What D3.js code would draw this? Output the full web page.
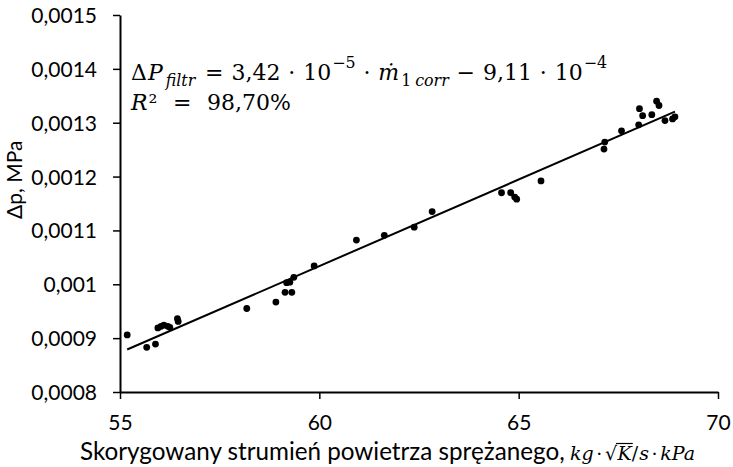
<!DOCTYPE html>
<html>
<head>
<meta charset="utf-8">
<script src="https://cdn.jsdelivr.net/npm/d3@7/dist/d3.min.js"></script>
<style>
  html, body { margin: 0; padding: 0; background: #fff; }
  svg { display: block; }
</style>
</head>
<body>
<svg id="chart" width="733" height="467"></svg>
<script>
// Corrected compressed-air flow (kg·√K/s·kPa) and filter pressure drop (MPa)
const flowValues = [
  55.18, 55.67, 55.89, 55.95, 56.03, 56.10, 56.20, 56.25, 56.44, 56.46,
  58.18, 58.91, 59.14, 59.31, 59.18, 59.26, 59.36, 59.87, 60.93, 61.63,
  62.38, 62.83, 64.57, 64.80, 64.90, 64.95, 65.56, 67.14, 67.16, 67.58,
  68.01, 68.03, 68.11, 68.34, 68.46, 68.52, 68.67, 68.86, 68.92
];
const dropValues = [
  0.000906, 0.000883, 0.000889, 0.000919, 0.000922, 0.000924, 0.000922, 0.000920, 0.000936, 0.000931,
  0.000955, 0.000967, 0.000985, 0.000985, 0.001003, 0.001004, 0.001013, 0.001034, 0.001082, 0.001091,
  0.001106, 0.001135, 0.001170, 0.001170, 0.001162, 0.001158, 0.001192, 0.001251, 0.001264, 0.001285,
  0.001296, 0.001326, 0.001313, 0.001315, 0.001340, 0.001332, 0.001304, 0.001307, 0.001311
];
const xTicks = [55, 60, 65, 70];
const xTickLabels = ["55", "60", "65", "70"];
const yTicks = [0.0008, 0.0009, 0.001, 0.0011, 0.0012, 0.0013, 0.0014, 0.0015];
const yTickLabels = ["0,0008", "0,0009", "0,001", "0,0011", "0,0012", "0,0013", "0,0014", "0,0015"];

const svg = d3.select("#chart");
const W = 733, H = 467;
const margin = { left: 120, right: 15, top: 15, bottom: 75 };

const x = d3.scaleLinear().domain([55, 70]).range([margin.left, W - margin.right]);
const y = d3.scaleLinear().domain([0.0008, 0.0015]).range([H - margin.bottom, margin.top]);

const labelFont = "Lato, 'Open Sans', sans-serif";
const mathFont = "'DejaVu Serif', 'Liberation Serif', serif";

// axes
const xAxis = d3.axisBottom(x).tickValues(xTicks).tickSize(7).tickSizeOuter(0)
  .tickFormat((d, i) => xTickLabels[i]);
const yAxis = d3.axisLeft(y).tickValues(yTicks).tickSize(7).tickSizeOuter(0)
  .tickFormat((d, i) => yTickLabels[i]);

const gx = svg.append("g").attr("transform", `translate(0,${y(0.0008)})`).call(xAxis);
const gy = svg.append("g").attr("transform", `translate(${x(55)},0)`).call(yAxis);

[gx, gy].forEach(g => {
  g.select(".domain").attr("stroke", "#000").attr("stroke-width", 2);
  g.selectAll(".tick line").attr("stroke", "#000").attr("stroke-width", 1.5);
  g.selectAll(".tick text").attr("fill", "#000")
    .style("font-family", labelFont).style("font-size", "21px");
});
gx.selectAll(".tick text").attr("y", 38).attr("dy", 0);
gy.selectAll(".tick text").attr("x", -23).attr("dy", "0.36em");

// least-squares trend line through the measurements
const n = flowValues.length;
const mx = d3.mean(flowValues), my = d3.mean(dropValues);
let sxy = 0, sxx = 0;
for (let i = 0; i < n; i++) {
  sxy += (flowValues[i] - mx) * (dropValues[i] - my);
  sxx += (flowValues[i] - mx) ** 2;
}
const slope = sxy / sxx, intercept = my - slope * mx;
const [xMin, xMax] = d3.extent(flowValues);
svg.append("line")
  .attr("x1", x(xMin)).attr("y1", y(slope * xMin + intercept))
  .attr("x2", x(xMax)).attr("y2", y(slope * xMax + intercept))
  .attr("stroke", "#000").attr("stroke-width", 2);

// measurement points
svg.append("g").selectAll("circle")
  .data(flowValues.map((v, i) => [v, dropValues[i]]))
  .join("circle")
  .attr("cx", d => x(d[0])).attr("cy", d => y(d[1]))
  .attr("r", 3.4).attr("fill", "#000");

// Sets a run of styled pieces side by side inside one text element.
// Operators ("op") get equal padding so that the run spans the requested width.
function richText(parent, x0, baseline, pieces, baseSize, family, width) {
  const text = parent.append("text")
    .style("font-family", family).attr("fill", "#000");
  const nodes = pieces.map(p => {
    const size = baseSize * (p.scale || 1);
    const t = text.append("tspan")
      .attr("x", x0)
      .attr("y", baseline + (p.shift || 0) * baseSize)
      .style("font-family", p.family || family)
      .style("font-size", size + "px")
      .style("font-style", p.italic ? "italic" : "normal")
      .text(p.t);
    return { t, w: t.node().getComputedTextLength(), p };
  });
  const natural = d3.sum(nodes, d => d.w + (d.p.gap || 0));
  const nOps = nodes.filter(d => d.p.op).length;
  const pad = width && nOps ? Math.max(1, (width - natural) / (2 * nOps)) : 0;
  let cx = x0;
  const boxes = [];
  nodes.forEach(d => {
    if (d.p.op) cx += pad;
    d.t.attr("x", cx);
    boxes.push({ x: cx, w: d.w });
    cx += d.w + (d.p.gap || 0);
    if (d.p.op) cx += pad;
  });
  return boxes;
}

// regression equation and coefficient of determination
const eqSize = 22;
const sub = 0.72, sup = 0.72;
richText(svg, 131, 80, [
  { t: "Δ", gap: 1 }, { t: "P", italic: true, gap: 3 },
  { t: "filtr", italic: true, scale: sub, shift: 0.25, gap: 2 },
  { t: "=", op: true },
  { t: "3,42" },
  { t: "·", op: true },
  { t: "10", gap: 1 },
  { t: "−5", scale: sup, shift: -0.55 },
  { t: "·", op: true },
  { t: "ṁ", italic: true, gap: 2 },
  { t: "1", scale: sub, shift: 0.25, gap: 4 },
  { t: "corr", italic: true, scale: sub, shift: 0.25 },
  { t: "−", op: true },
  { t: "9,11" },
  { t: "·", op: true },
  { t: "10", gap: 1 },
  { t: "−4", scale: sup, shift: -0.55 }
], eqSize, mathFont, 476);
richText(svg, 131, 110, [
  { t: "R", italic: true, gap: 1 },
  { t: "²" },
  { t: "=", op: true },
  { t: "98,70%" }
], eqSize, mathFont, 160);

// x axis title: text part, then the unit typeset as maths
const titleText = svg.append("text")
  .attr("x", 80).attr("y", 460)
  .style("font-family", labelFont).style("font-size", "21px")
  .attr("fill", "#000")
  .text("Skorygowany strumień powietrza sprężanego,");
const tw = titleText.node().getComputedTextLength();
titleText.style("font-size", (21 * 485 / tw) + "px");

const unitSize = 19;
const ub = richText(svg, 570, 460, [
  { t: "kg", italic: true },
  { t: "·", op: true },
  { t: "√", gap: 0.5 },
  { t: "K", italic: true },
  { t: "/", gap: 1 },
  { t: "s", italic: true },
  { t: "·", op: true },
  { t: "kPa", italic: true }
], unitSize, mathFont, 125);
// vinculum over the radicand
const kBox = ub[3];
svg.append("line")
  .attr("x1", ub[2].x + ub[2].w - 1).attr("x2", kBox.x + kBox.w + 1)
  .attr("y1", 443.5).attr("y2", 443.5)
  .attr("stroke", "#000").attr("stroke-width", 1.2);

// y axis title
svg.append("text")
  .attr("transform", "translate(22,219) rotate(-90)")
  .attr("text-anchor", "start")
  .style("font-family", labelFont).style("font-size", "21px")
  .attr("fill", "#000")
  .text("Δp, MPa");
</script>
</body>
</html>
